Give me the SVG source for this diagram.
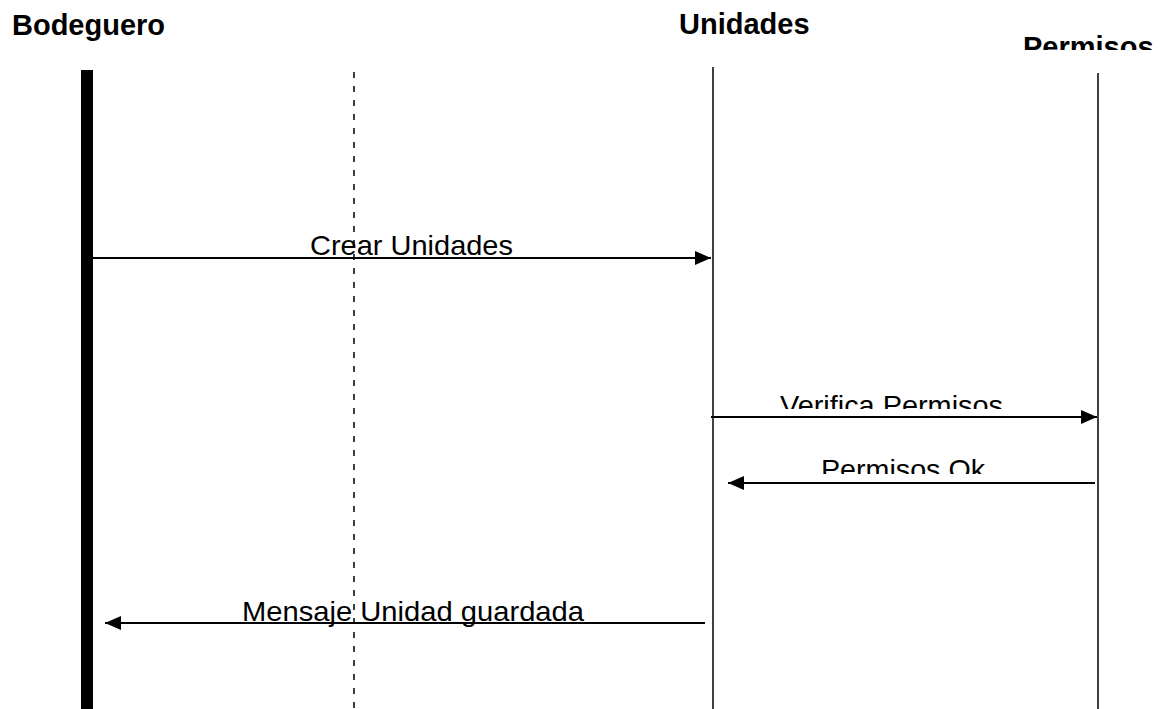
<svg xmlns="http://www.w3.org/2000/svg" width="1176" height="709" viewBox="0 0 1176 709">
<style>
.title{font-family:"Liberation Sans",Arial,sans-serif;font-weight:bold;font-size:29px;fill:#000}
.msg{font-family:"Liberation Sans",Arial,sans-serif;font-size:28px;fill:#000}
.life{stroke:#000;stroke-width:1.5;fill:none}
.conn{stroke:#000;stroke-width:2.2;fill:none}
</style>
<defs>
<marker id="ah" markerWidth="18" markerHeight="14" refX="16" refY="7" orient="auto" markerUnits="userSpaceOnUse">
<path d="M0,0 L16,7 L0,14 Z" fill="#000"/>
</marker>
<clipPath id="clipPerm"><rect x="1000" y="0" width="176" height="50"/></clipPath>
<clipPath id="clipVer"><rect x="700" y="380" width="400" height="29"/></clipPath>
<clipPath id="clipOk"><rect x="700" y="440" width="400" height="34"/></clipPath>
</defs>
<g id="bodeguero">
<text class="title" x="12" y="35">Bodeguero</text>
<rect x="81" y="70" width="12" height="640" fill="#000"/>
</g>
<g id="frontera">
<line x1="354" y1="72" x2="354" y2="709" stroke="#000" stroke-width="1.5" stroke-dasharray="6 8"/>
</g>
<g id="unidades">
<text class="title" x="679" y="34">Unidades</text>
<line class="life" x1="713" y1="67" x2="713" y2="709"/>
</g>
<g id="permisos">
<text class="title" x="1023" y="57" clip-path="url(#clipPerm)">Permisos</text>
<line class="life" x1="1098" y1="73" x2="1098" y2="709"/>
</g>
<g id="connectors">
<line class="conn" x1="93" y1="258" x2="711" y2="258" marker-end="url(#ah)"/>
<text class="msg" x="310" y="255" textLength="203" lengthAdjust="spacingAndGlyphs">Crear Unidades</text>
<line class="conn" x1="711" y1="417" x2="1097" y2="417" marker-end="url(#ah)"/>
<text class="msg" x="780" y="415" textLength="223" lengthAdjust="spacingAndGlyphs" clip-path="url(#clipVer)">Verifica Permisos</text>
<line class="conn" x1="1095" y1="483" x2="728" y2="483" marker-end="url(#ah)"/>
<text class="msg" x="821" y="479" textLength="164" lengthAdjust="spacingAndGlyphs" clip-path="url(#clipOk)">Permisos Ok</text>
<line class="conn" x1="705" y1="623" x2="105" y2="623" marker-end="url(#ah)"/>
<text class="msg" x="242" y="621" textLength="342" lengthAdjust="spacingAndGlyphs">Mensaje Unidad guardada</text>
</g>
</svg>
